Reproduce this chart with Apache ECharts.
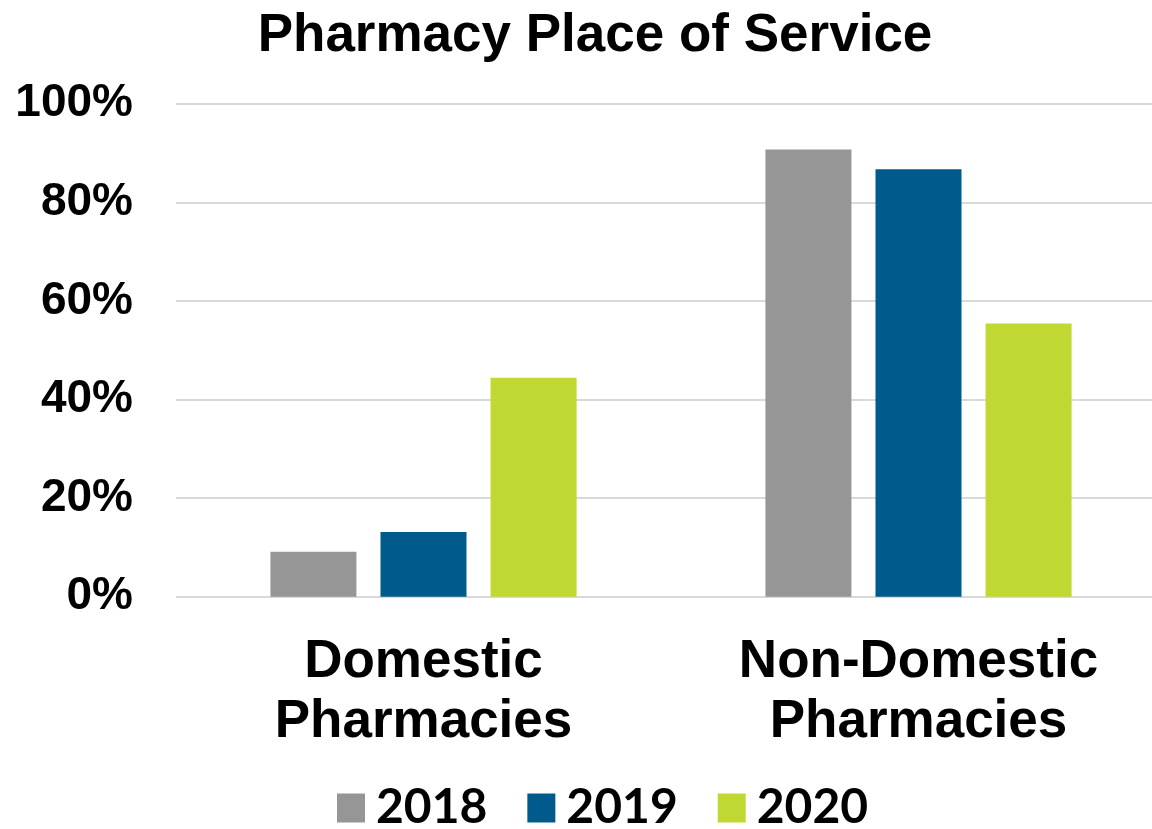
<!DOCTYPE html>
<html>
<head>
<meta charset="utf-8">
<script src="https://cdn.jsdelivr.net/npm/echarts@6/dist/echarts.min.js"></script>
<style>
  html, body { margin: 0; padding: 0; background: #fff; }
  #chart { width: 1152px; height: 829px; }
</style>
</head>
<body>
<div id="chart"></div>
<script>
const categories = ["Domestic\nPharmacies", "Non-Domestic\nPharmacies"];
const years = ["2018", "2019", "2020"];
const values2018 = [9.1, 90.7];
const values2019 = [13.1, 86.7];
const values2020 = [44.4, 55.4];
const yTicks = [0, 20, 40, 60, 80, 100];

document.addEventListener("DOMContentLoaded", function () {
  const chart = echarts.init(document.getElementById("chart"));
  const colors = ["#969696", "#005a8c", "#c1d832"];
  const seriesData = [values2018, values2019, values2020];

  const option = {
    animation: false,
    backgroundColor: "#ffffff",
    title: {
      text: "Pharmacy Place of Service",
      left: 590,
      top: 5,
      textAlign: "center",
      textStyle: {
        fontFamily: "Liberation Sans",
        fontWeight: "bold",
        fontSize: 53,
        color: "#000",
      },
    },
    legend: {
      data: years,
      bottom: -8,
      left: 332,
      itemWidth: 28,
      itemHeight: 29,
      itemGap: 40,
      icon: "rect",
      textStyle: {
        fontFamily: "Lato",
        fontWeight: "bold",
        fontSize: 48,
        color: "#000",
        padding: [0, 0, 0, 6],
      },
    },
    grid: {
      left: 176,
      top: 103.7,
      width: 990,
      height: 493,
      containLabel: false,
      outerBoundsMode: "none",
    },
    xAxis: {
      type: "category",
      data: categories,
      axisLine: { show: false },
      axisTick: { show: false },
      axisLabel: {
        margin: 36,
        fontFamily: "Liberation Sans",
        fontWeight: "bold",
        fontSize: 53,
        lineHeight: 60,
        color: "#000",
      },
    },
    yAxis: {
      type: "value",
      min: yTicks[0],
      max: yTicks[yTicks.length - 1],
      interval: 20,
      axisLine: { show: false },
      axisTick: { show: false },
      splitLine: {
        lineStyle: { color: "#d9d9d9", width: 2 },
      },
      axisLabel: {
        margin: 43,
        formatter: "{value}%",
        fontFamily: "Liberation Sans",
        fontWeight: "bold",
        fontSize: 46,
        color: "#000",
      },
    },
    series: years.map(function (year, i) {
      return {
        name: year,
        type: "bar",
        data: seriesData[i],
        barWidth: 86,
        barGap: "28%",
        itemStyle: { color: colors[i] },
      };
    }),
  };
  chart.setOption(option);
});
</script>
</body>
</html>
